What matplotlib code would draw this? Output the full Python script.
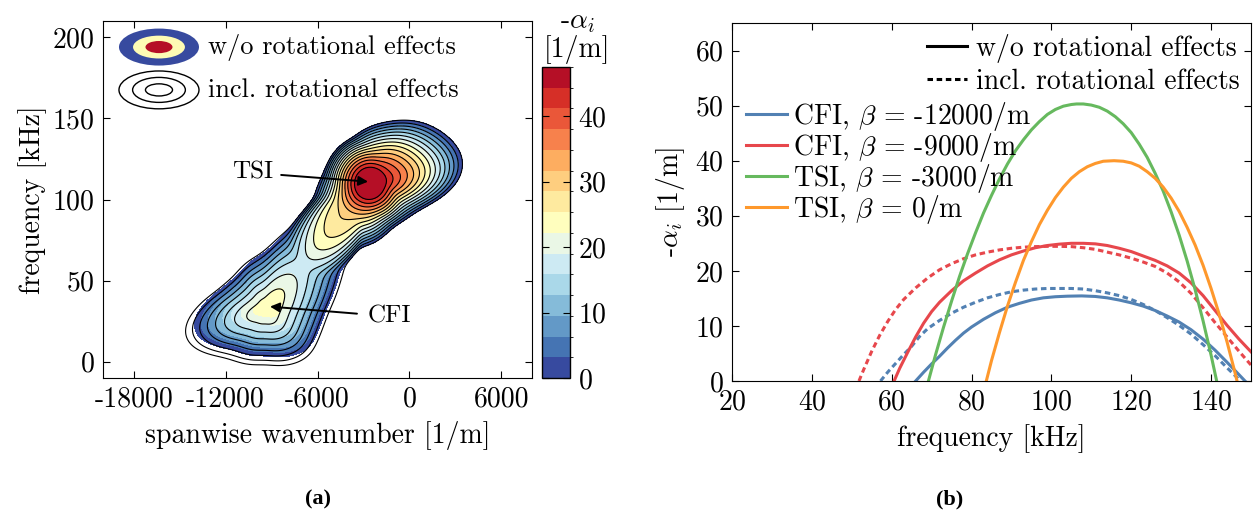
import numpy as np
import matplotlib
matplotlib.use('Agg')
import matplotlib.pyplot as plt
from matplotlib.patches import Ellipse
from matplotlib.lines import Line2D
from matplotlib.colors import ListedColormap, BoundaryNorm
import matplotlib.cm as cm

plt.rcParams['font.family'] = 'cmr10'
plt.rcParams['mathtext.fontset'] = 'cm'
plt.rcParams['axes.unicode_minus'] = False
plt.rcParams['axes.formatter.use_mathtext'] = True

# ---------------- Panel (b) data: -alpha_i [1/m] vs frequency [kHz] ----------------
cfi12_f = [66, 68, 70, 72, 74, 76, 78, 80, 83, 86, 89, 92, 95, 98, 101, 104, 107.6, 111, 114,
           117, 120, 123, 126, 129, 132, 135, 138, 141, 144, 146, 148.5]
cfi12_v = [0, 1.6, 3.1, 4.5, 6.0, 7.4, 8.7, 9.8, 11.2, 12.4, 13.4, 14.1, 14.7, 15.1, 15.3, 15.4,
           15.45, 15.35, 15.1, 14.7, 14.2, 13.6, 12.8, 11.8, 10.7, 9.3, 7.6, 5.6, 3.4, 1.9, 0]
cfi12_rot_f = [57.2, 59, 61, 63, 65, 67, 69, 72, 75, 78, 81, 84, 87, 90, 93, 96, 99, 102, 105,
               108, 111, 114, 117, 120, 123, 126, 129, 132, 135, 138, 141, 144, 147.4]
cfi12_rot_v = [0, 1.6, 3.2, 4.8, 6.3, 8.1, 9.5, 11.0, 12.3, 13.4, 14.3, 15.1, 15.7, 16.2, 16.5,
               16.7, 16.8, 16.8, 16.8, 16.7, 16.4, 16.0, 15.5, 14.8, 13.9, 12.8, 11.5, 10.1, 8.5,
               6.6, 4.6, 2.4, 0]
cfi9_f = [60.6, 62, 64, 66, 68, 70, 72, 75, 78, 81, 84, 87, 90, 93, 96, 99, 102, 105, 108, 111,
          114, 117, 120, 123, 126, 129, 132, 135, 138, 141, 144, 147, 150]
cfi9_v = [0, 2.3, 5.2, 8.0, 10.5, 12.6, 14.3, 16.4, 18.2, 19.6, 20.9, 22.0, 22.9, 23.6, 24.2, 24.6,
          24.85, 25.0, 25.0, 24.9, 24.6, 24.1, 23.5, 22.7, 21.9, 20.9, 19.6, 17.8, 15.5, 12.8, 10.1,
          7.6, 5.3]
cfi9_rot_f = [51.8, 53, 55, 57, 59, 61, 63, 66, 69, 72, 75, 78, 81, 84, 87, 90, 93, 96, 99, 102,
              105, 108, 111, 114, 117, 120, 123, 126, 129, 132, 135, 138, 141, 144, 147, 150]
cfi9_rot_v = [0, 2.1, 5.4, 8.3, 10.8, 13.0, 14.8, 16.9, 18.7, 20.2, 21.3, 22.2, 22.9, 23.4, 23.8,
              24.1, 24.3, 24.4, 24.45, 24.45, 24.4, 24.2, 23.9, 23.4, 22.9, 22.3, 21.6, 20.8, 19.6,
              18.0, 15.9, 13.3, 10.6, 8.0, 5.4, 2.9]
tsi3_f = [69.2, 71, 73, 75, 77, 79, 81, 83, 85, 87, 89, 91, 93, 95, 97, 99, 101, 103, 105, 106.3,
          108, 110, 112, 114, 116, 118, 120, 122, 124, 126, 128, 130, 132, 134, 136, 138, 140, 141.4]
tsi3_v = [0, 4.8, 9.8, 14.5, 19.0, 23.1, 26.9, 30.5, 33.7, 36.7, 39.4, 41.8, 43.8, 45.6, 47.1,
          48.4, 49.3, 49.9, 50.2, 50.3, 50.3, 50.1, 49.7, 49.0, 48.0, 46.7, 45.1, 43.0, 40.6, 37.7,
          34.5, 30.7, 26.5, 21.8, 16.6, 10.9, 4.7, 0]
tsi0_f = [83.7, 85, 87, 89, 91, 93, 95, 97, 99, 101, 103, 105, 107, 109, 111, 113, 115.7, 118, 120,
          122, 124, 126, 128, 130, 132, 134, 136, 138, 140, 142, 144, 146, 146.5]
tsi0_v = [0, 3.7, 8.8, 13.6, 17.9, 21.9, 25.3, 28.4, 31.0, 33.3, 35.2, 36.8, 38.0, 38.9, 39.5,
          39.9, 40.0, 39.9, 39.6, 39.0, 38.0, 36.8, 35.2, 33.2, 30.8, 27.9, 24.7, 21.0, 16.8, 12.2,
          7.1, 1.5, 0]

series_labels = [r'CFI, $\beta$ = -12000/m', r'CFI, $\beta$ = -9000/m',
                 r'TSI, $\beta$ = -3000/m', r'TSI, $\beta$ = 0/m']
series_colors = ['#5281b3', '#e7474c', '#66b95e', '#fe982c']

# ---------------- Panel (a) data: growth-rate lobes ----------------
# each lobe: peak position (spanwise wavenumber [1/m], frequency [kHz]), peak -alpha_i,
# and the distance to its zero contour (units of 1000 1/m = 10 kHz) for several directions [deg]
tsi_center = (-2600, 110)
tsi_core_peak = 51.0
tsi_core_ang = [0, 180]
tsi_core_rad = [3.0, 3.0]

tsi_peak = 47.0
tsi_ang = [0, 12, 45, 70, 90, 120, 150, 180, 207, 229, 250, 270, 300, 330, 345]
tsi_rad = [5.8, 6.6, 5.2, 4.0, 3.45, 2.8, 2.8, 3.25, 4.2, 4.5, 4.2, 3.8, 3.0, 3.4, 4.2]

ridge_peak = 30.0
ridge_ang = [0, 90, 180, 200, 209, 219, 229, 239, 249, 260, 290]
ridge_rad = [2.5, 2.5, 2.5, 4.3, 6.0, 8.0, 9.5, 8.0, 5.7, 4.0, 2.5]

cfi_center = (-9200, 34)
cfi_peak = 24.5
cfi_ang = [0, 27, 49, 65, 80, 90, 135, 160, 180, 196, 225, 270, 317, 336]
cfi_rad = [3.7, 5.1, 7.7, 5.85, 4.0, 3.3, 2.7, 3.1, 4.3, 5.5, 3.5, 2.95, 3.7, 3.5]

# including rotational effects (black line contours): CFI lobe shifted / enlarged
cfi_rot_center = (-9400, 31)
cfi_rot_peak = 25.0
cfi_rot_scale = 1.08

cbar_max = 47.5
n_bands = 15
cbar_ticks = [0, 10, 20, 30, 40]


def smooth_radius(ang, rad, sig):
    g = np.arange(0, 360, 0.5)
    r = np.interp(g, ang, rad, period=360)
    d = (np.arange(len(g)) - len(g) // 2) * 0.5
    ker = np.exp(-0.5 * (d / sig) ** 2)
    ker = np.fft.ifftshift(ker / ker.sum())
    rs = np.real(np.fft.ifft(np.fft.fft(r) * np.fft.fft(ker)))
    return g, rs


def lobe(K, F, center, peak, ang, rad, scale=1.0, p=1.5, sig=9.0):
    u = (K - center[0]) / 1000.0
    v = (F - center[1]) / 10.0
    r = np.hypot(u, v)
    th = np.degrees(np.arctan2(v, u)) % 360
    g, rs = smooth_radius(ang, rad, sig)
    R = np.interp(th, g, rs, period=360) * scale
    return peak * (1 - (r / R) ** p)


def combine(fields, T=2.0):
    a = np.array(fields)
    m = a.max(axis=0)
    return m + T * np.log(np.exp((a - m) / T).sum(axis=0))


fig = plt.figure(figsize=(12.54, 5.16), dpi=100)

# ---------------- Panel (a) ----------------
axa = fig.add_axes([103 / 1254, 138 / 516, 429 / 1254, 357 / 516])
kk = np.linspace(-20000, 8000, 800)
ff = np.linspace(-10, 210, 700)
K, F = np.meshgrid(kk, ff)
tsi_parts = [
    lobe(K, F, tsi_center, tsi_core_peak, tsi_core_ang, tsi_core_rad, p=1.8),
    lobe(K, F, tsi_center, tsi_peak, tsi_ang, tsi_rad),
    lobe(K, F, tsi_center, ridge_peak, ridge_ang, ridge_rad, p=2.5, sig=4.0),
]
Z = combine(tsi_parts + [lobe(K, F, cfi_center, cfi_peak, cfi_ang, cfi_rad)])
Zr = combine(tsi_parts + [lobe(K, F, cfi_rot_center, cfi_rot_peak, cfi_ang, cfi_rad,
                               scale=cfi_rot_scale)])
levels = np.linspace(0, cbar_max, n_bands + 1)
cols = plt.get_cmap('RdYlBu_r')((np.arange(n_bands) + 0.5) / n_bands)
cmap = ListedColormap(cols)
norm = BoundaryNorm(levels, n_bands)
axa.contourf(K, F, np.minimum(Z, cbar_max - 0.01), levels=levels, cmap=cmap, norm=norm)
axa.contour(K, F, Zr, levels=levels[:-1], colors='k', linewidths=0.8)

axa.set_xlim(-20000, 8000)
axa.set_ylim(-10, 210)
xt = [-18000, -12000, -6000, 0, 6000]
axa.set_xticks(xt)
axa.set_xticklabels(['%d' % t for t in xt])
axa.set_yticks([0, 50, 100, 150, 200])
axa.tick_params(direction='in', top=True, right=True, labelsize=20, length=5, pad=6)
axa.set_xlabel('spanwise wavenumber [1/m]', fontsize=20, labelpad=6)
axa.set_ylabel('frequency [kHz]', fontsize=20, labelpad=4)

# legend of panel (a)
for w, h, c in [(0.1865, 0.1036, cols[0]), (0.121, 0.064, '#fefbb4'), (0.063, 0.034, cols[-1])]:
    axa.add_patch(Ellipse((0.1305, 0.927), w, h, transform=axa.transAxes, facecolor=c,
                          edgecolor='none', zorder=5))
for w, h in [(0.1865, 0.106), (0.123, 0.07), (0.063, 0.034)]:
    axa.add_patch(Ellipse((0.1305, 0.807), w, h, transform=axa.transAxes, facecolor='none',
                          edgecolor='k', lw=1.0, zorder=5))
axa.text(0.2448, 0.927, 'w/o rotational effects', transform=axa.transAxes, va='center',
         ha='left', fontsize=19)
axa.text(0.2448, 0.807, 'incl. rotational effects', transform=axa.transAxes, va='center',
         ha='left', fontsize=19)

axa.annotate('TSI', xy=(-2700, 111), xytext=(-11600, 116.5), fontsize=18, va='center', ha='left',
             arrowprops=dict(arrowstyle='-|>', color='k', lw=1.4, mutation_scale=14,
                             shrinkA=4, shrinkB=0))
axa.annotate('CFI', xy=(-9100, 34), xytext=(-2700, 28), fontsize=18, va='center', ha='left',
             arrowprops=dict(arrowstyle='-|>', color='k', lw=1.4, mutation_scale=14,
                             shrinkA=6, shrinkB=0))

# colorbar
cax = fig.add_axes([542 / 1254, 138 / 516, 28 / 1254, 311 / 516])
sm = cm.ScalarMappable(norm=norm, cmap=cmap)
cb = fig.colorbar(sm, cax=cax, ticks=cbar_ticks)
cb.ax.tick_params(direction='in', left=True, right=True, labelsize=20, length=5, pad=6)
cb.outline.set_linewidth(1.0)
fig.text(577 / 1254, 1 - 22 / 516, r'-$\alpha_i$', fontsize=20, ha='center', va='center')
fig.text(577 / 1254, 1 - 49 / 516, '[1/m]', fontsize=20, ha='center', va='center')

# ---------------- Panel (b) ----------------
axb = fig.add_axes([732 / 1254, 135 / 516, 519 / 1254, 358 / 516])
dash = (0, (1.8, 1.2))
lw = 2.2
solid_sets = [(cfi12_f, cfi12_v), (cfi9_f, cfi9_v), (tsi3_f, tsi3_v), (tsi0_f, tsi0_v)]
rot_sets = [(cfi12_rot_f, cfi12_rot_v), (cfi9_rot_f, cfi9_rot_v)]
for (fx, vy), c in zip(rot_sets, series_colors[:2]):
    axb.plot(fx, vy, color=c, lw=lw, ls=dash)
handles = []
for (fx, vy), c, lab in zip(solid_sets, series_colors, series_labels):
    h, = axb.plot(fx, vy, color=c, lw=lw, label=lab)
    handles.append(h)

axb.set_xlim(20, 150)
axb.set_ylim(0, 65)
axb.set_xticks([20, 40, 60, 80, 100, 120, 140])
axb.set_yticks([0, 10, 20, 30, 40, 50, 60])
axb.tick_params(direction='in', top=True, right=True, labelsize=20, length=5, pad=6)
axb.set_xlabel('frequency [kHz]', fontsize=20, labelpad=6)
axb.set_ylabel(r'-$\alpha_i$ [1/m]', fontsize=20, labelpad=6)

leg1 = axb.legend([Line2D([], [], color='k', lw=lw), Line2D([], [], color='k', lw=lw, ls=dash)],
                  ['w/o rotational effects', 'incl. rotational effects'],
                  loc='upper right', bbox_to_anchor=(0.979, 0.97), frameon=False, fontsize=20,
                  borderpad=0, handlelength=1.44, handletextpad=0.32, labelspacing=0.22,
                  borderaxespad=0)
axb.add_artist(leg1)
axb.legend(handles=handles, loc='upper left', bbox_to_anchor=(0.027, 0.785), frameon=False,
           fontsize=20, borderpad=0, handlelength=1.48, handletextpad=0.2, labelspacing=-0.07,
           borderaxespad=0)

fig.text(318 / 1254, 1 - 499 / 516, '(a)', fontsize=16, fontweight='bold', ha='center',
         va='center', family='Liberation Serif')
fig.text(950 / 1254, 1 - 499 / 516, '(b)', fontsize=16, fontweight='bold', ha='center',
         va='center', family='Liberation Serif')

fig.savefig('out.png', dpi=100)
